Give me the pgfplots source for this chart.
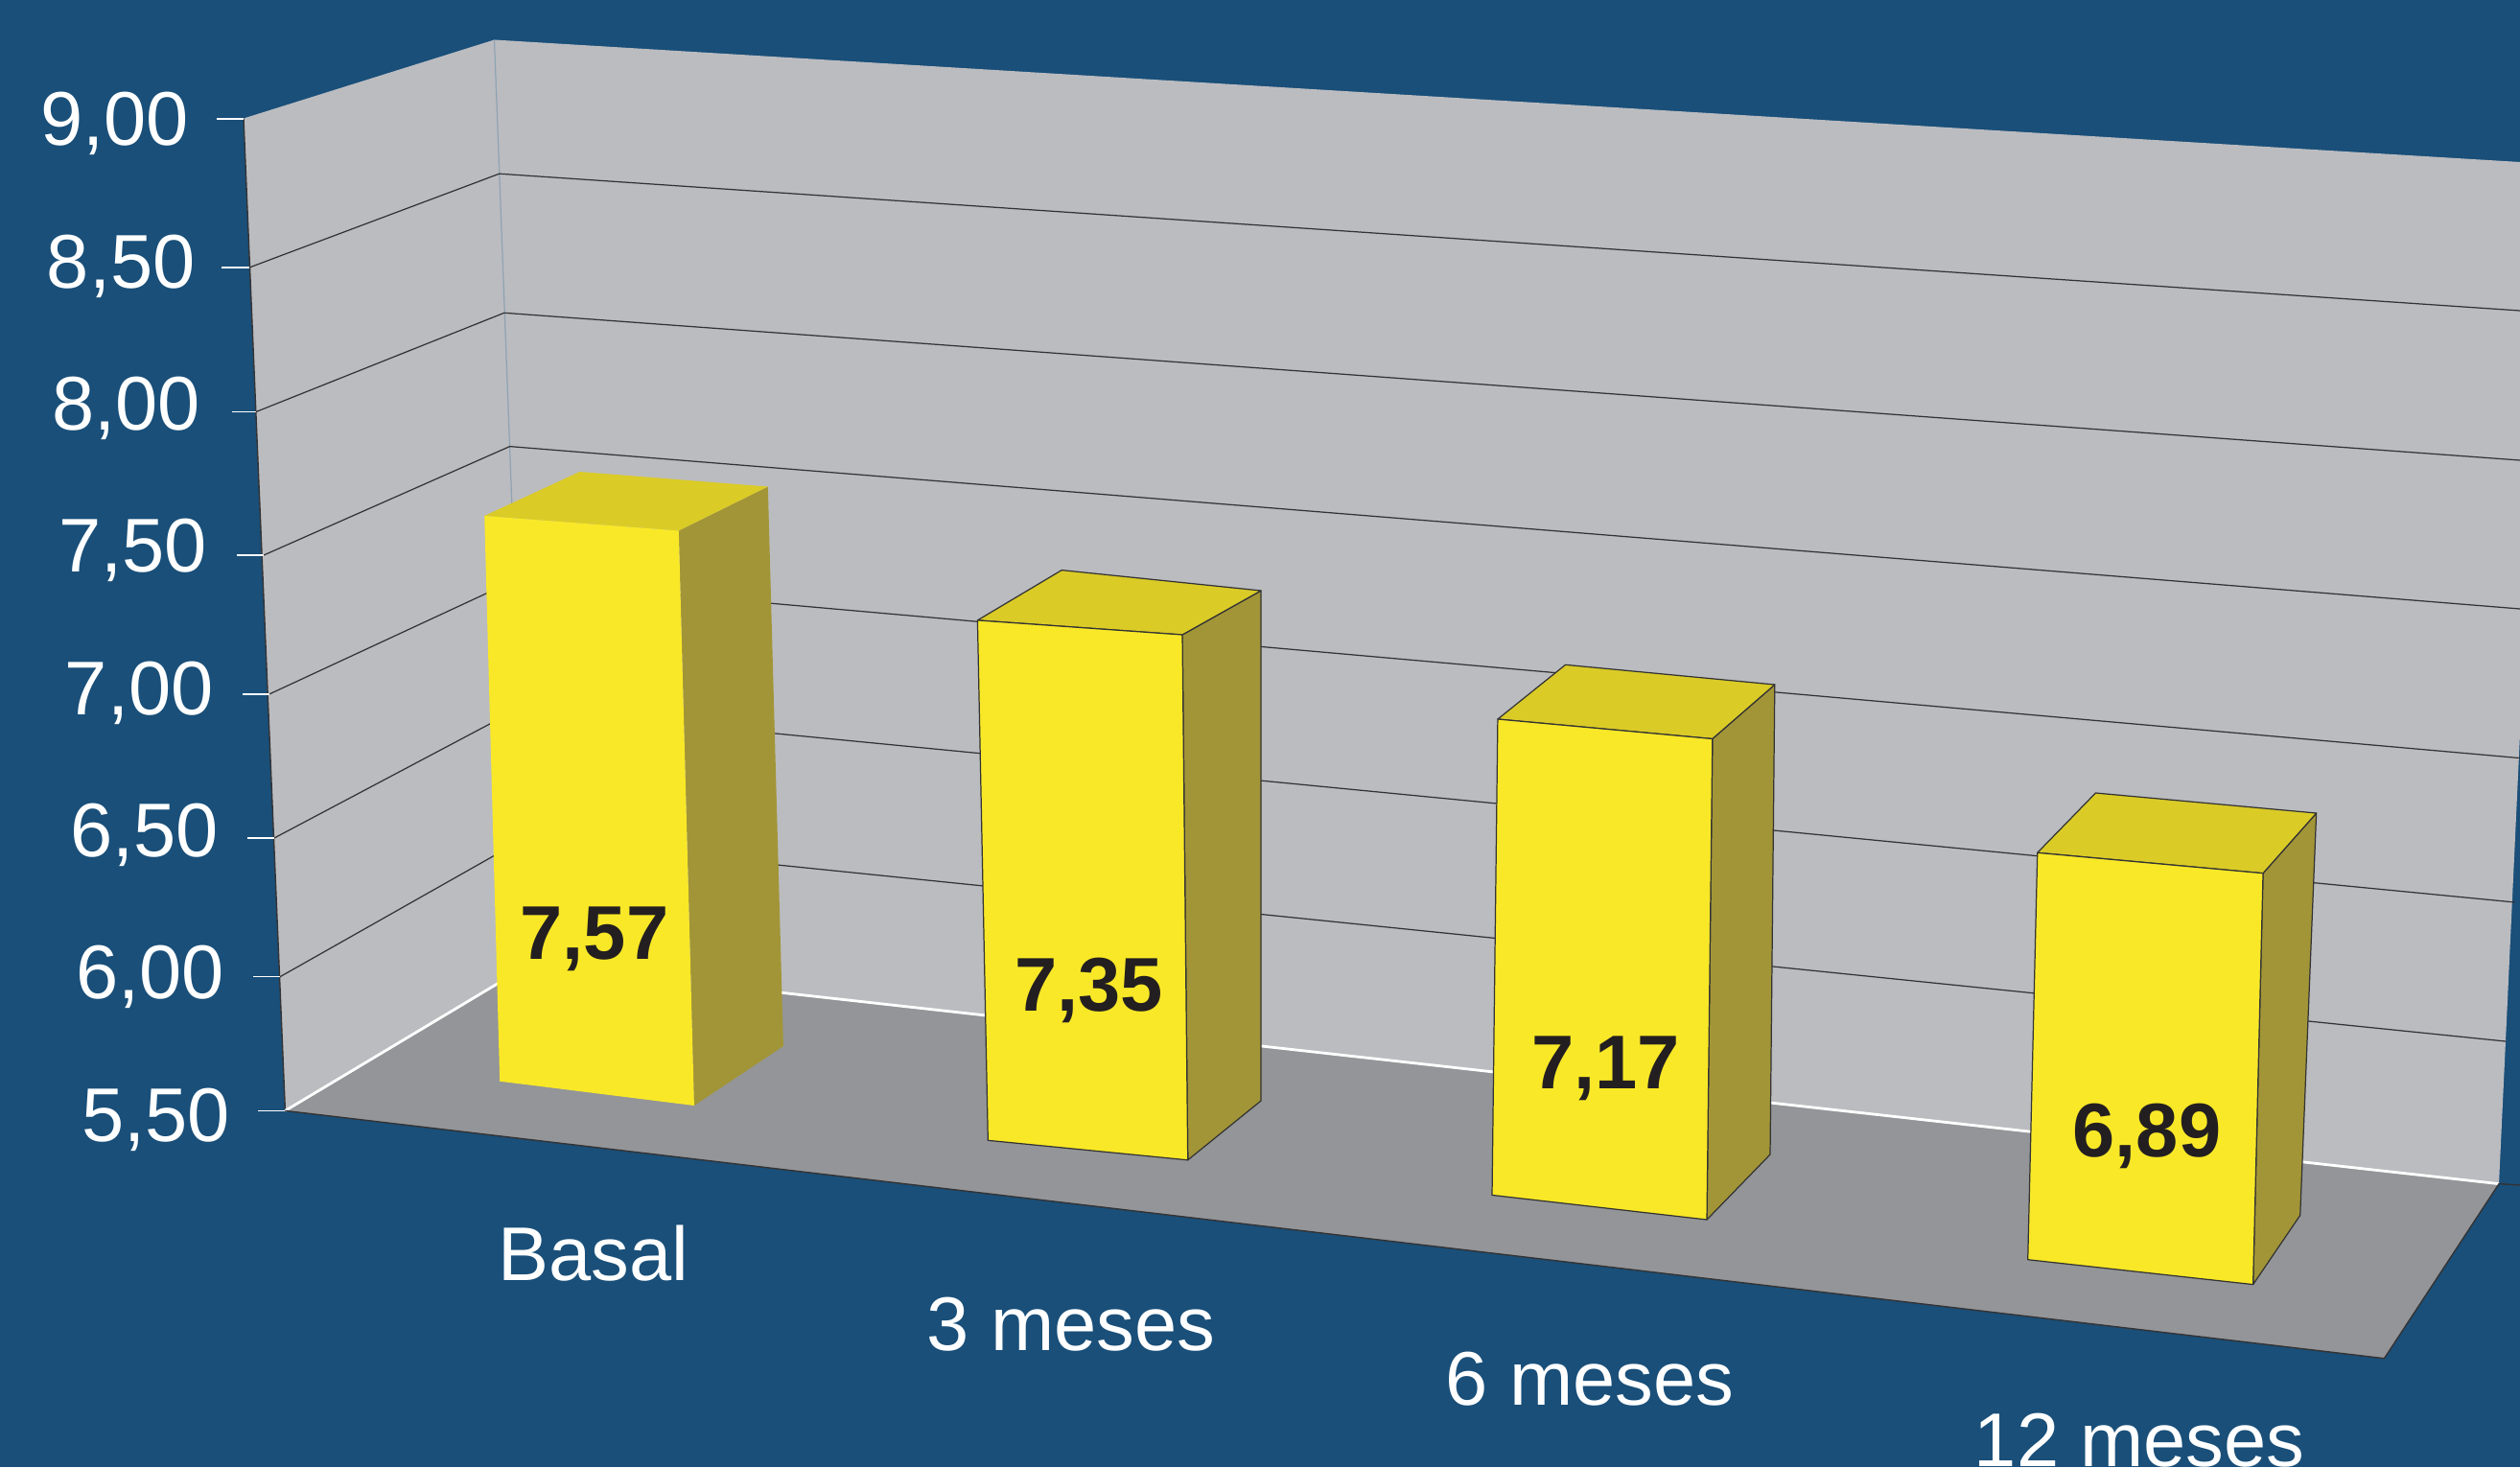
\documentclass[border=0pt]{standalone}
\usepackage{fontspec}
\setmainfont{Liberation Sans}
\usepackage{pgfplots}
\pgfplotsset{compat=1.18}

\definecolor{fondo}{HTML}{194F79}
\definecolor{pared}{HTML}{BBBCC0}
\definecolor{suelo}{HTML}{939598}
\definecolor{frente}{HTML}{F9E827}
\definecolor{tapa}{HTML}{DACB27}
\definecolor{lado}{HTML}{A29537}
\definecolor{tinta}{HTML}{231F20}
\definecolor{rejilla}{HTML}{333335}
\definecolor{arista}{HTML}{8FA3B3}

\newcommand{\tamano}{\fontsize{22.6}{26}\selectfont}
% One face of the drawing, outlined or not; the corners are projected positions
\newcommand{\cara}[2]{\addplot[fill=#1,draw=none] coordinates {#2} --cycle;}
\newcommand{\caral}[2]{\addplot[fill=#1,draw=black!80,line width=0.35pt,line join=round] coordinates {#2} --cycle;}
\newcommand{\linea}[2]{\addplot[#1] coordinates {#2};}
% Text set at a baseline: anchor, position, colour, contents
\newcommand{\rotulo}[4]{\node[anchor=#1,inner sep=0pt,outer sep=0pt,text=#3] at (axis cs:#2) {\tamano #4};}

\begin{document}
\begin{tikzpicture}
\useasboundingbox (0,0) rectangle (26.28cm,15.30cm);
\clip (0,0) rectangle (26.28cm,15.30cm);
\begin{axis}[
  at={(0,0)},anchor=south west,
  scale only axis,width=26.28cm,height=15.30cm,
  xmin=0,xmax=2628,ymin=0,ymax=1530,y dir=reverse,
  axis lines=none,clip=false,no markers,
]
% Background
\cara{fondo}{(0,0)(2628,0)(2628,1530)(0,1530)}

% Walls
\cara{pared}{(254,123.5)(515.5,41.5)(552,1006)(297.4,1158.4)}
\cara{pared}{(515.5,41.5)(2628,169)(2628,765)(2606,1234.6)(552,1006)}
\linea{arista,line width=0.35pt}{(515.5,41.5)(552,1006)}
\linea{rejilla,line width=0.4pt}{(254,123.5)(297.4,1158.4)}

% Gridlines: side wall and back wall for 8,50 down to 6,00
\linea{rejilla,line width=0.35pt}{(260,279)(520.7,181.2)(2628,324)}
\linea{rejilla,line width=0.35pt}{(267,429.5)(525.8,326.3)(2628,480)}
\linea{rejilla,line width=0.35pt}{(275,579)(531.6,465.6)(2628,635)}
\linea{rejilla,line width=0.35pt}{(280.7,724)(536,605.5)(2628,790.6)}
\linea{rejilla,line width=0.35pt}{(286,874)(541,739)(2622.6,941)}
\linea{rejilla,line width=0.35pt}{(292,1018.7)(546,875)(2613,1086)}

% Floor
\cara{suelo}{(297.4,1158.4)(552,1006)(2606,1234.6)(2486.4,1416.7)}
\linea{white,line width=0.8pt}{(297.4,1158.4)(552,1006)(2606,1234.6)}
\linea{rejilla,line width=0.4pt}{(297.4,1158.4)(2486.4,1416.7)(2606,1234.6)(2628,1236)}

% Tick marks
\linea{white,line width=0.4pt}{(225.6,124)(254,124)}
\linea{white,line width=0.4pt}{(230.8,279)(260,279)}
\linea{white,line width=0.4pt}{(242.3,429.5)(267,429.5)}
\linea{white,line width=0.4pt}{(247.4,579)(275,579)}
\linea{white,line width=0.4pt}{(253,724)(280.7,724)}
\linea{white,line width=0.4pt}{(258,874)(286,874)}
\linea{white,line width=0.4pt}{(264,1018.7)(292,1018.7)}
\linea{white,line width=0.4pt}{(269,1158.4)(297.4,1158.4)}

% Basal: 7,57
\cara{lado}{(707.8,553.5)(800.8,507.5)(816.9,1091)(723.9,1153)}
\cara{tapa}{(505.2,538)(604.5,492)(800.8,507.5)(707.8,553.5)}
\cara{frente}{(505.2,538)(707.8,553.5)(723.9,1153)(521.2,1127.7)}

% 3 meses: 7,35
\caral{lado}{(1233,662)(1315,616)(1315,1148)(1238.7,1209.8)}
\caral{tapa}{(1019.4,646.9)(1107.2,594.6)(1315,616)(1233,662)}
\caral{frente}{(1019.4,646.9)(1233,662)(1238.7,1209.8)(1030.3,1189.3)}

% 6 meses: 7,17
\caral{lado}{(1785.8,770.5)(1850.8,714)(1846,1204)(1780,1272)}
\caral{tapa}{(1561.9,750)(1632.5,693.3)(1850.8,714)(1785.8,770.5)}
\caral{frente}{(1561.9,750)(1785.8,770.5)(1780,1272)(1556,1246.4)}

% 12 meses: 6,89
\caral{lado}{(2360,910.7)(2415.6,848)(2398.7,1267.4)(2349.6,1339.6)}
\caral{tapa}{(2124.7,889.3)(2185.4,827)(2415.6,848)(2360,910.7)}
\caral{frente}{(2124.7,889.3)(2360,910.7)(2349.6,1339.6)(2114.7,1313.7)}

% Values printed on the bars
\rotulo{base}{620,1000}{tinta}{\bfseries 7,57}
\rotulo{base}{1135.6,1054}{tinta}{\bfseries 7,35}
\rotulo{base}{1674.4,1135.7}{tinta}{\bfseries 7,17}
\rotulo{base}{2239,1206}{tinta}{\bfseries 6,89}

% Scale labels
\rotulo{base east}{197,151}{white}{9,00}
\rotulo{base east}{203.5,300.5}{white}{8,50}
\rotulo{base east}{209,448.5}{white}{8,00}
\rotulo{base east}{216,596.5}{white}{7,50}
\rotulo{base east}{222.5,745}{white}{7,00}
\rotulo{base east}{228,893.5}{white}{6,50}
\rotulo{base east}{234,1041.5}{white}{6,00}
\rotulo{base east}{240,1190}{white}{5,50}

% Category labels
\rotulo{base}{619,1335.8}{white}{Basal}
\rotulo{base}{1117,1408.5}{white}{3 meses}
\rotulo{base}{1658,1465}{white}{6 meses}
\rotulo{base}{2231,1529}{white}{12 meses}
\end{axis}
\end{tikzpicture}
\end{document}
